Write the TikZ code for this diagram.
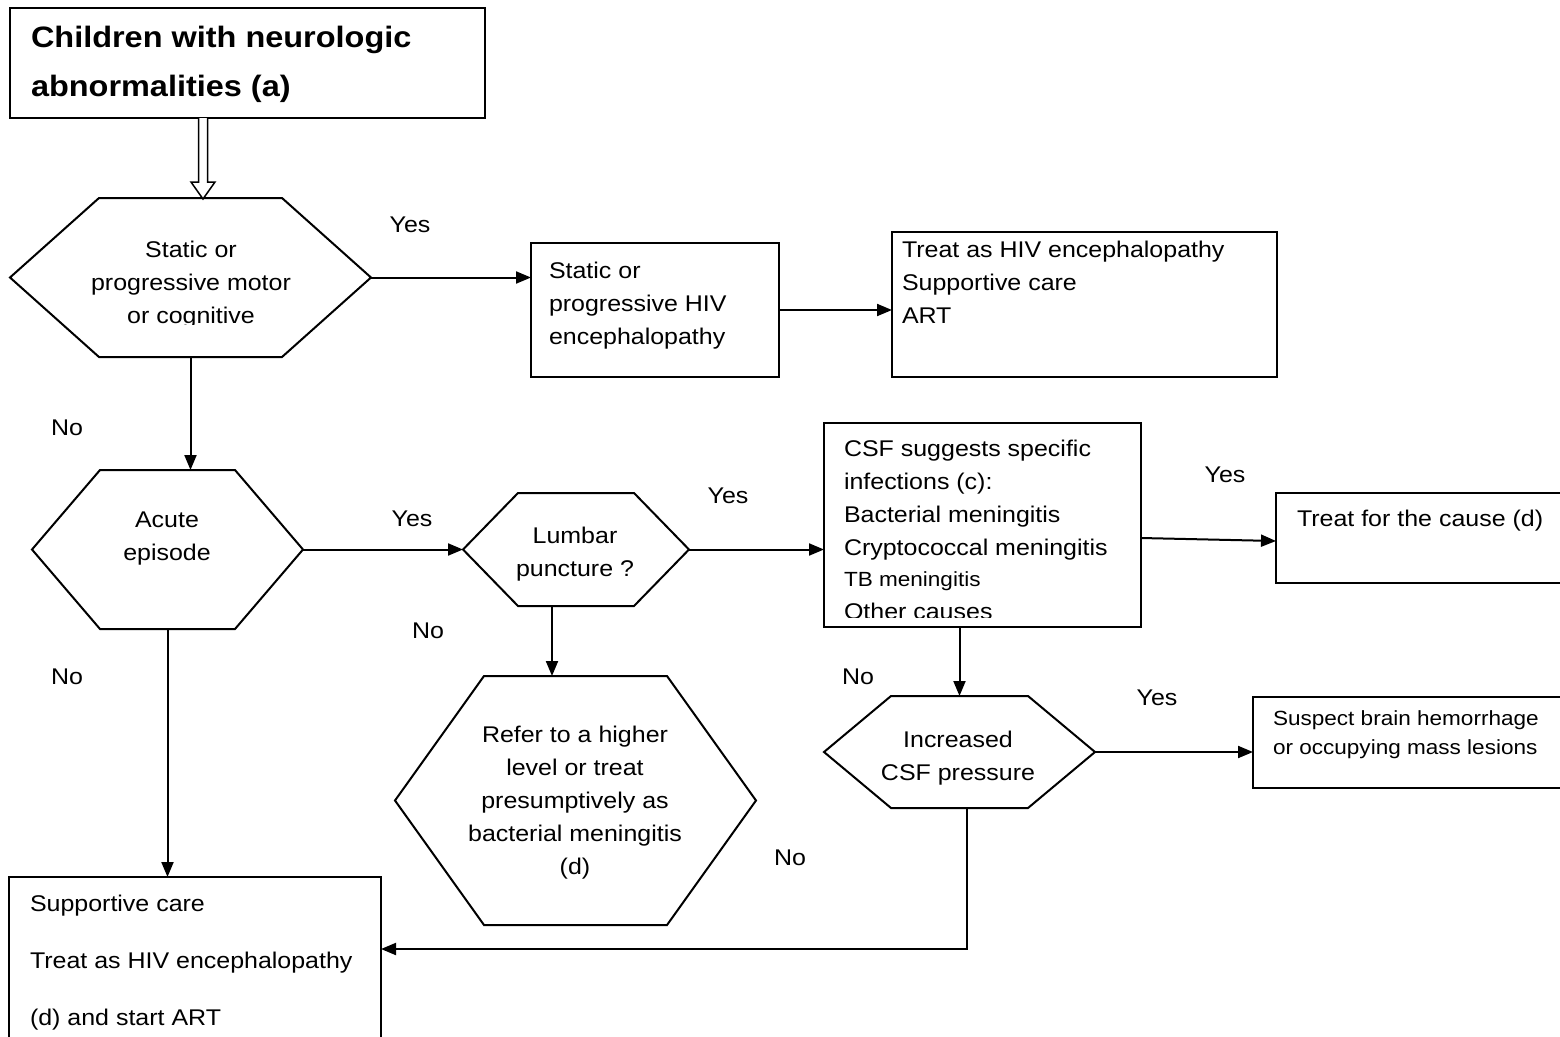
\documentclass[tikz,border=0pt]{standalone}
\usepackage{fontspec}
\setmainfont{Liberation Sans}[FakeStretch=1.1]
\usetikzlibrary{arrows.meta}

% stacked lines, first baseline is the reference point
\newcommand\rows[2][l]{\begin{tabular}[t]{@{}#1@{}}#2\end{tabular}}
% hexagon outline drawn over an invisible rectangle node; #2 = corner inset
\newcommand\hexoutline[2]{%
  \draw (#1.west) -- ([xshift=#2pt]#1.north west) -- ([xshift=-#2pt]#1.north east)
        -- (#1.east) -- ([xshift=-#2pt]#1.south east) -- ([xshift=#2pt]#1.south west) -- cycle;}

\begin{document}
\begin{tikzpicture}[x=1pt,y=-1pt,line width=2pt,
  frame/.style={draw, rectangle, inner sep=0pt, outer sep=0pt},
  hexbox/.style={rectangle, inner sep=0pt, outer sep=0pt},
  arr/.style={-{Triangle[length=15pt,width=12pt]}},
  body/.style={inner sep=0pt, font=\fontsize{22.7}{33}\selectfont},
  wide/.style={inner sep=0pt, font=\fontsize{22.7}{57}\selectfont},
  small/.style={inner sep=0pt, font=\fontsize{20.5}{29}\selectfont},
  heading/.style={inner sep=0pt, font=\fontsize{29.5}{49}\selectfont\bfseries},
  hollow/.style={line width=1.5pt, fill=white}]

\useasboundingbox (0,0) rectangle (1560,1036);

% ---------- boxes ----------
\node[frame, minimum width=475pt, minimum height=110pt] (title) at (247.5,63) {};
\node[frame, minimum width=248pt, minimum height=134pt] (b1) at (655,310) {};
\node[frame, minimum width=385pt, minimum height=145pt] (b2) at (1084.5,304.5) {};
\node[frame, minimum width=317pt, minimum height=204pt] (csf) at (982.5,525) {};
\node[frame, minimum width=324pt, minimum height=90pt] (tc) at (1438,538) {};
\node[frame, minimum width=347pt, minimum height=91pt] (sus) at (1426.5,742.5) {};
\node[frame, minimum width=372pt, minimum height=168pt] (sup) at (195,961) {};

% ---------- hexagons ----------
\node[hexbox, minimum width=361pt, minimum height=159pt] (h1) at (190.5,277.5) {};
\node[hexbox, minimum width=271pt, minimum height=159pt] (h2) at (167.5,549.5) {};
\node[hexbox, minimum width=226pt, minimum height=113pt] (h3) at (576,549.5) {};
\node[hexbox, minimum width=361pt, minimum height=249pt] (h4) at (575.5,800.5) {};
\node[hexbox, minimum width=271pt, minimum height=112pt] (h5) at (959.5,752) {};
\hexoutline{h1}{89}
\hexoutline{h2}{68}
\hexoutline{h3}{55}
\hexoutline{h4}{89}
\hexoutline{h5}{67}

% ---------- texts ----------
\node[heading, anchor=base west] (ttitle) at (30,47) {\rows{Children with neurologic\\abnormalities (a)}};

\begin{scope}
  \clip (0,0) rectangle (1560,324);
  \node[body, anchor=base] (th1) at (191,257) {\rows[c]{Static or\\progressive motor\\or cognitive}};
\end{scope}
\node[body, anchor=base west] (tb1) at (548,278) {\rows{Static or\\progressive HIV\\encephalopathy}};
\node[body, anchor=base west] (tb2) at (901,257) {\rows{Treat as HIV encephalopathy\\Supportive care\\ART}};
\node[body, anchor=base] (th2) at (167,527) {\rows[c]{Acute\\episode}};
\node[body, anchor=base] (th3) at (575,543) {\rows[c]{Lumbar\\puncture ?}};
\node[body, anchor=base] (th4) at (575,742) {\rows[c]{Refer to a higher\\level or treat\\presumptively as\\bacterial meningitis\\(d)}};
\begin{scope}
  \clip (0,0) rectangle (1560,617);
  \node[body, anchor=base west] (tcsf) at (843,456) {\rows{CSF suggests specific\\infections (c):\\Bacterial meningitis\\Cryptococcal meningitis}};
  \node[small, anchor=base west] (ttb) at (843,586) {TB meningitis};
  \node[body, anchor=base west] (toth) at (843,619) {Other causes};
\end{scope}
\node[body, anchor=base west] (ttc) at (1296,526) {Treat for the cause (d)};
\node[body, anchor=base] (th5) at (958,747) {\rows[c]{Increased\\CSF pressure}};
\node[small, anchor=base west] (tsus) at (1272,725) {\rows{Suspect brain hemorrhage\\or occupying mass lesions}};
\node[wide, anchor=base west] (tsup) at (29,911) {\rows{Supportive care\\Treat as HIV encephalopathy\\(d) and start ART}};

% ---------- branch labels ----------
\node[body, anchor=base] (yes1) at (410,232) {Yes};
\node[body, anchor=base] (no1) at (67,435) {No};
\node[body, anchor=base] (yes2) at (412,526) {Yes};
\node[body, anchor=base] (yes3) at (728,503) {Yes};
\node[body, anchor=base] (no2) at (428,638) {No};
\node[body, anchor=base] (no3) at (67,684) {No};
\node[body, anchor=base] (yes4) at (1225,482) {Yes};
\node[body, anchor=base] (no4) at (858,684) {No};
\node[body, anchor=base] (yes5) at (1157,705) {Yes};
\node[body, anchor=base] (no5) at (790,865) {No};

% ---------- connectors ----------
\path (title.south) ++(-44.5,0) coordinate (ha);
\draw[hollow] (ha) ++(-4.5,0) -- ++(0,64) -- ++(-7.5,0) -- ++(12,17) -- ++(12,-17)
  -- ++(-7.5,0) -- ++(0,-64);
\draw[arr] (h1.east) -- (h1.east -| b1.west);
\draw[arr] (b1.east) -- (b1.east -| b2.west);
\draw[arr] (h1.south) -- (h1.south |- h2.north);
\draw[arr] (h2.south) -- (h2.south |- sup.north);
\draw[arr] (h2.east) -- (h2.east -| h3.west);
\draw[arr] ([xshift=-24pt]h3.south) -- ([xshift=-24pt]h3.south |- h4.north);
\draw[arr] (h3.east) -- (h3.east -| csf.west);
\draw[arr] ([yshift=-13pt]csf.east) -- ([yshift=-3pt]tc.west);
\draw[arr] (h5.north |- csf.south) -- (h5.north);
\draw[arr] (h5.east) -- (h5.east -| sus.west);
\draw[arr] ([xshift=7.5pt]h5.south) |- ([yshift=12pt]sup.east);

\end{tikzpicture}
\end{document}
